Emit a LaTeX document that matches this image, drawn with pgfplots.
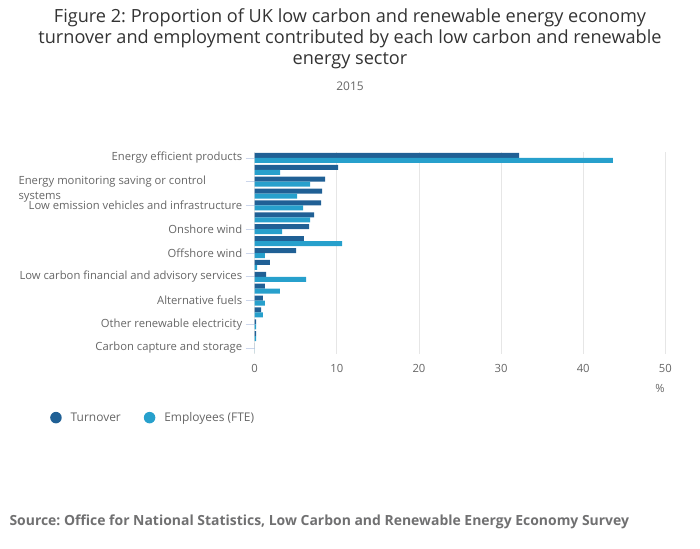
\documentclass[border=0pt]{standalone}
\usepackage{pgfplots}
\pgfplotsset{compat=1.18}
\usepackage{pgfplotstable}
\usepackage{fontspec}
\setmainfont{Open Sans}
\frenchspacing
\definecolor{tblue}{HTML}{206095}
\definecolor{eblue}{HTML}{27A0CC}
\definecolor{lab}{HTML}{666666}
\definecolor{dark}{HTML}{333333}
\definecolor{src}{HTML}{707071}
\definecolor{gridc}{HTML}{E6E6E6}
\definecolor{tickc}{HTML}{CCD6EB}
% pos = 16 - rank from top
\pgfplotstableread{
pos T E
16 32.2 43.6
15 10.15 3.1
14 8.57 6.74
13 8.2 5.16
12 8.08 5.89
11 7.23 6.74
10 6.62 3.33
9 6.0 10.65
8 5.03 1.25
7 1.86 0.28
6 1.38 6.26
5 1.25 3.08
4 1.0 1.25
3 0.77 1.0
2 0.16 0.16
1 0.16 0.16
0 0 0
}\data
\begin{document}
\begin{tikzpicture}[x=1bp,y=1bp]
\path[use as bounding box] (0,0) rectangle (700,-549);
\node[align=center, text=dark, font=\fontsize{18.2}{21}\selectfont] at (350,-39) {Figure 2: Proportion of UK low carbon and renewable energy economy\\turnover and employment contributed by each low carbon and renewable\\energy sector};
\node[text=lab, font=\fontsize{12}{14}\selectfont] at (350,-86) {2015};
\begin{axis}[
  at={(254.7bp,-354bp)}, anchor=south west, scale only axis,
  width=410.6bp, height=202bp,
  xbar,
  xmin=0, xmax=50, xtick={0,10,...,50},
  ymin=-0.5, ymax=16.5,
  ytick={0,2,...,16},
  yticklabels={Carbon capture and storage,Other renewable electricity,Alternative fuels,Low carbon financial and advisory services,Offshore wind,Onshore wind,Low emission vehicles and infrastructure,,Energy efficient products},
  xmajorgrids, grid style={draw=gridc, line width=0.8bp},
  axis line style={draw=none},
  tick align=outside, tick pos=left,
  xtick style={draw=none},
  ytick style={draw=tickc, line width=0.8bp},
  major tick length=9bp,
  yticklabel style={text=lab, font=\fontsize{11.3}{13}\selectfont},
  xticklabel style={text=lab, font=\fontsize{11.3}{13}\selectfont, yshift=2bp},
  /pgf/number format/assume math mode=true,
  legend style={at={(-0.4985,-0.315)}, anchor=west, draw=none, fill=none,
    inner sep=0pt, legend cell align=left,
    font=\fontsize{12}{14}\selectfont, text=lab,
    /tikz/every odd column/.append style={column sep=7bp},
    /tikz/every even column/.append style={column sep=21bp}},
  legend columns=2,
]
\addplot[fill=tblue, draw=none, bar width=5bp, bar shift=2.5bp,
  legend image code/.code={\node[circle, fill=tblue, draw=none, inner sep=0pt, minimum size=11.5bp] at (5.75bp,0bp) {};}] table[x=T,y=pos]{\data};
\addplot[fill=eblue, draw=none, bar width=5bp, bar shift=-2.5bp,
  legend image code/.code={\node[circle, fill=eblue, draw=none, inner sep=0pt, minimum size=11.5bp] at (5.75bp,0bp) {};}] table[x=E,y=pos]{\data};
\legend{Turnover,Employees (FTE)}
\end{axis}
\node[anchor=west, align=left, text=lab, font=\fontsize{11.3}{15}\selectfont] at (15,-189.5) {Energy monitoring saving or control\\systems};
\node[text=lab, font=\fontsize{11.3}{13}\selectfont] at (660,-388) {\%};
\node[anchor=west, text=src, font=\bfseries\fontsize{14}{16}\selectfont] at (6,-522) {Source: Office for National Statistics, Low Carbon and Renewable Energy Economy Survey};
\end{tikzpicture}
\end{document}
